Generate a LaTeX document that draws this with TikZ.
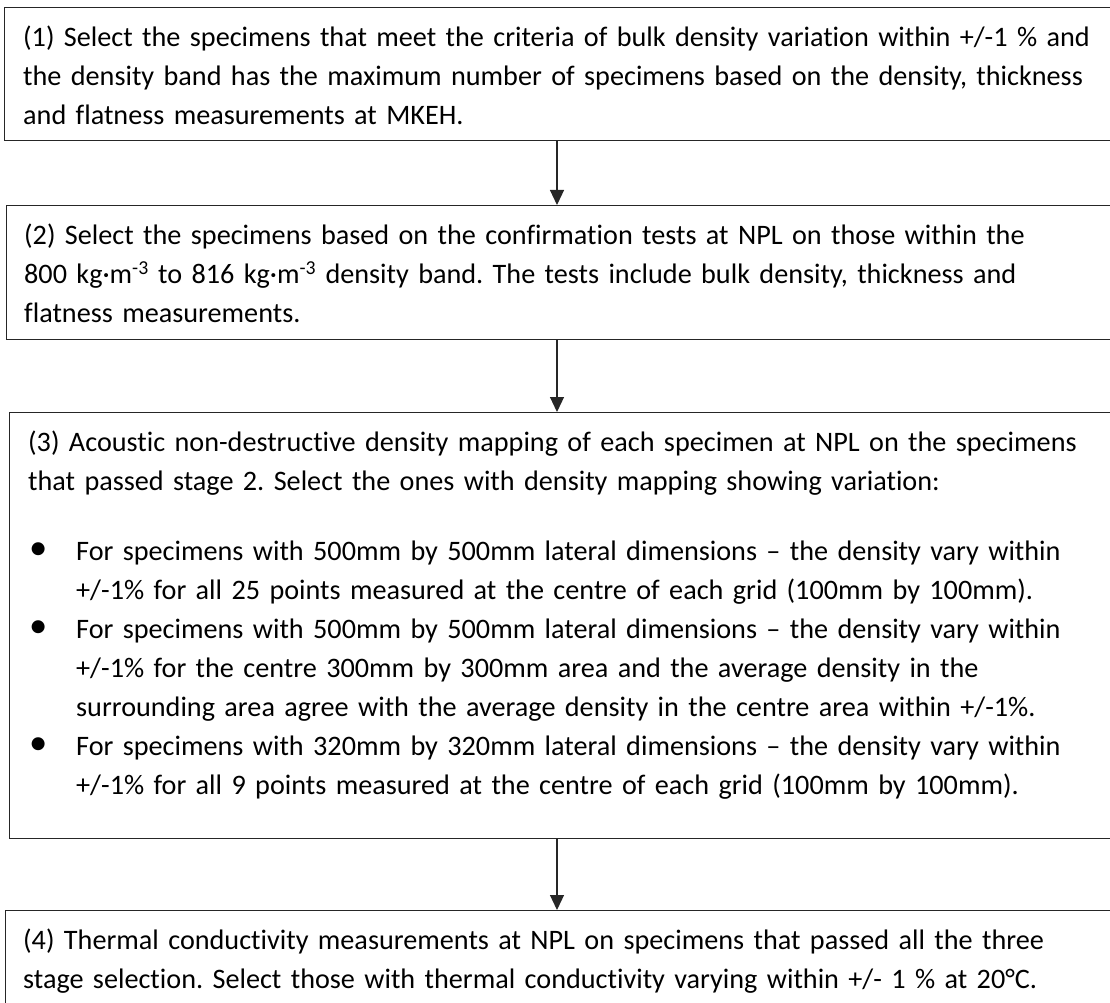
\documentclass[tikz,border=0pt]{standalone}
\usepackage{fontspec}
\setmainfont{Carlito}[Ligatures=NoCommon]
\usepackage{graphicx}
\usetikzlibrary{arrows.meta}
\definecolor{edge}{HTML}{262626}
\definecolor{ink}{HTML}{000000}
\newcommand{\itemdot}{\makebox[48pt][l]{\hspace{1pt}\raisebox{0.5pt}{\scalebox{1.3}{\textbullet}}}}
\newcommand{\itempar}{\par\hangindent=48pt\hangafter=1\noindent\strut\itemdot}
\tikzset{
  stagebox/.style={draw=edge, line width=1.4pt, anchor=north west, minimum width=1150pt, inner sep=0pt},
  stagetext/.style={anchor=north west, inner sep=0pt, text width=1100pt, align=left,
    font=\fontsize{28.2}{39}\selectfont\frenchspacing, text=ink},
  flow/.style={draw=edge, line width=1.2pt, -{Triangle[width=14pt,length=15pt]}}
}

\begin{document}
\begin{tikzpicture}[x=1pt,y=-1pt]
  \useasboundingbox (0,0) rectangle (1110,1003);
  \clip (0,0) rectangle (1110,1003);
  % the four selection stages
  \node[stagebox, minimum height=133pt] (box1) at (4,7) {};
  \node[stagebox, minimum height=134pt] (box2) at (6,205) {};
  \node[stagebox, minimum height=426pt] (box3) at (9,412) {};
  \node[stagebox, minimum height=140pt] (box4) at (5,910) {};
  \coordinate (axis) at (557,0);

  \node[stagetext] (text1) at (23,18.7) {\strut(1) Select the specimens that meet the criteria of bulk density variation within +/-1 \% and\\
    the density band has the maximum number of specimens based on the density, thickness\\
    and flatness measurements at MKEH.};
  \node[stagetext] (text2) at (24,216.7) {\strut(2) Select the specimens based on the confirmation tests at NPL on those within the\\
    800 kg·m\textsuperscript{-3} to 816 kg·m\textsuperscript{-3} density band. The tests include bulk density, thickness and\\
    flatness measurements.};
  \node[stagetext] (text3) at (28,423.7) {\strut(3) Acoustic non-destructive density mapping of each specimen at NPL on the specimens\\
    that passed stage 2. Select the ones with density mapping showing variation:\par\vspace{31pt}
    \itempar For specimens with 500mm by 500mm lateral dimensions – the density vary within\break
    +/-1\% for all 25 points measured at the centre of each grid (100mm by 100mm).
    \itempar For specimens with 500mm by 500mm lateral dimensions – the density vary within\break
    +/-1\% for the centre 300mm by 300mm area and the average density in the\break
    surrounding area agree with the average density in the centre area within +/-1\%.
    \itempar For specimens with 320mm by 320mm lateral dimensions – the density vary within\break
    +/-1\% for all 9 points measured at the centre of each grid (100mm by 100mm).\par};
  \node[stagetext] (text4) at (23,921.7) {\strut(4) Thermal conductivity measurements at NPL on specimens that passed all the three\\
    stage selection. Select those with thermal conductivity varying within +/- 1 \% at 20°C.};

  \draw[flow] (box1.south -| axis) -- (box2.north -| axis);
  \draw[flow] (box2.south -| axis) -- (box3.north -| axis);
  \draw[flow] (box3.south -| axis) -- (box4.north -| axis);
\end{tikzpicture}
\end{document}
